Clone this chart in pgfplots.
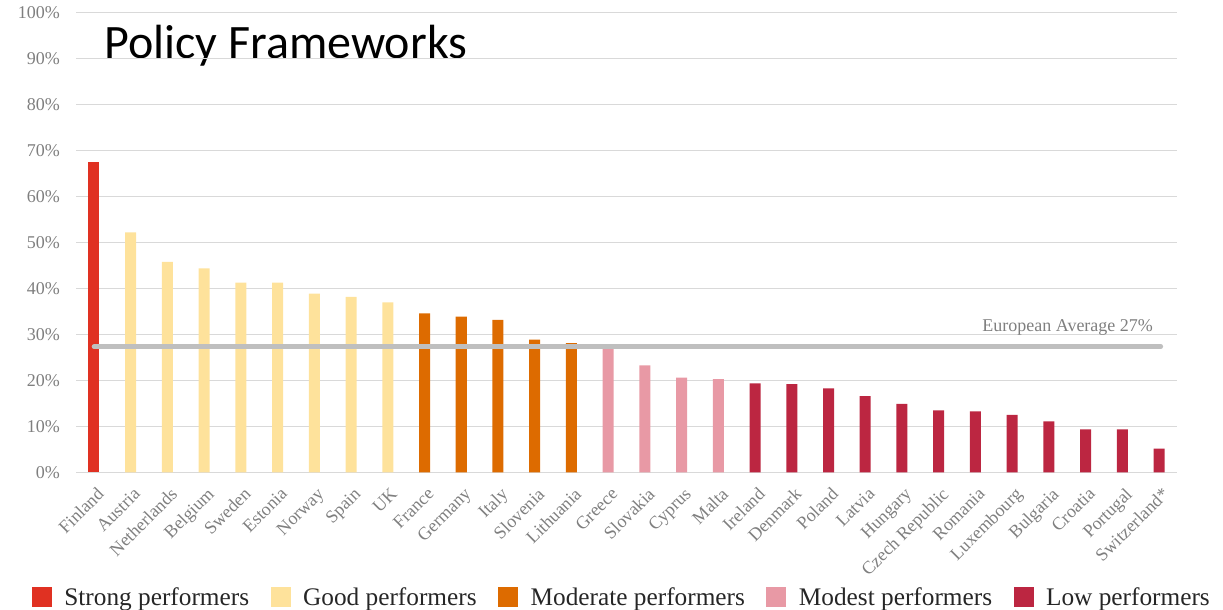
\documentclass[border=0pt]{standalone}
\usepackage{pgfplots}
\pgfplotsset{compat=1.18}
\usepackage{fontspec}
\setmainfont{Liberation Serif}
\newfontfamily\titlefont{Carlito}
\definecolor{strong}{HTML}{E03122}
\definecolor{good}{HTML}{FEE29B}
\definecolor{moder}{HTML}{DD6B00}
\definecolor{modest}{HTML}{E899A5}
\definecolor{low}{HTML}{BC2641}
\definecolor{txtgray}{HTML}{7F7F7F}
\definecolor{gridgray}{HTML}{D9D9D9}
\definecolor{avggray}{HTML}{BFBFBF}
\definecolor{legtext}{HTML}{262626}
\begin{document}
\begin{tikzpicture}[x=1pt,y=1pt]
\useasboundingbox (0,0) rectangle (1223,610);
\node[anchor=base west, font=\titlefont\fontsize{48}{57}\selectfont, inner sep=0pt] at (104,551) {Policy Frameworks};
\begin{axis}[
  at={(76pt,137.5pt)}, anchor=south west,
  scale only axis, width=1101pt, height=460pt,
  xmin=-0.49, xmax=29.49, ymin=0, ymax=100,
  axis line style={draw=none},
  major tick style={draw=none},
  ymajorgrids, grid style={gridgray, line width=1pt},
  ytick={0,10,...,100},
  yticklabels={0\%,10\%,20\%,30\%,40\%,50\%,60\%,70\%,80\%,90\%,100\%},
  yticklabel style={font=\fontsize{18}{21}\selectfont, text=txtgray, inner sep=0pt, xshift=-16pt},
  xtick={0,...,29},
  xticklabels={Finland,Austria,Netherlands,Belgium,Sweden,Estonia,Norway,Spain,UK,France,Germany,Italy,Slovenia,Lithuania,Greece,Slovakia,Cyprus,Malta,Ireland,Denmark,Poland,Latvia,Hungary,Czech Republic,Romania,Luxembourg,Bulgaria,Croatia,Portugal,Switzerland*},
  xticklabel style={font=\fontsize{18}{21}\selectfont, text=txtgray, xshift=2pt, yshift=-14pt, rotate=45, anchor=north east, inner sep=0pt},
  legend columns=5,
  legend style={at={(-0.043,-0.271)}, anchor=west, draw=none, fill=none,
    font=\fontsize{25.3}{30}\selectfont, text=legtext,
    /tikz/every odd column/.append style={column sep=10.5pt},
    /tikz/every even column/.append style={column sep=19.5pt}},
  legend image code/.code={\fill[#1] (0pt,-10pt) rectangle (20pt,10pt);},
]
\addplot[ybar, bar width=11pt, fill=strong, draw=none] coordinates {(0,67.4)};
\addplot[ybar, bar width=11pt, fill=good, draw=none] coordinates {
(1,52.2)(2,45.8)(3,44.4)(4,41.3)(5,41.3)(6,38.9)(7,38.2)(8,37.0)};
\addplot[ybar, bar width=11pt, fill=moder, draw=none] coordinates {
(9,34.6)(10,33.9)(11,33.2)(12,28.9)(13,28.1)};
\addplot[ybar, bar width=11pt, fill=modest, draw=none] coordinates {
(14,27.2)(15,23.3)(16,20.6)(17,20.3)};
\addplot[ybar, bar width=11pt, fill=low, draw=none] coordinates {
(18,19.4)(19,19.2)(20,18.3)(21,16.6)(22,14.9)(23,13.5)(24,13.3)(25,12.5)(26,11.1)(27,9.4)(28,9.4)(29,5.2)};
\addplot[avggray, line width=4.5pt, line cap=round, forget plot] coordinates {(0,27.35)(29.05,27.35)};
\node[anchor=base east, font=\fontsize{18}{21}\selectfont, text=txtgray, inner sep=0pt] at (axis cs:28.84,30.6) {European Average 27\%};
\legend{Strong performers, Good performers, Moderate performers, Modest performers, Low performers}
\end{axis}
\end{tikzpicture}
\end{document}
